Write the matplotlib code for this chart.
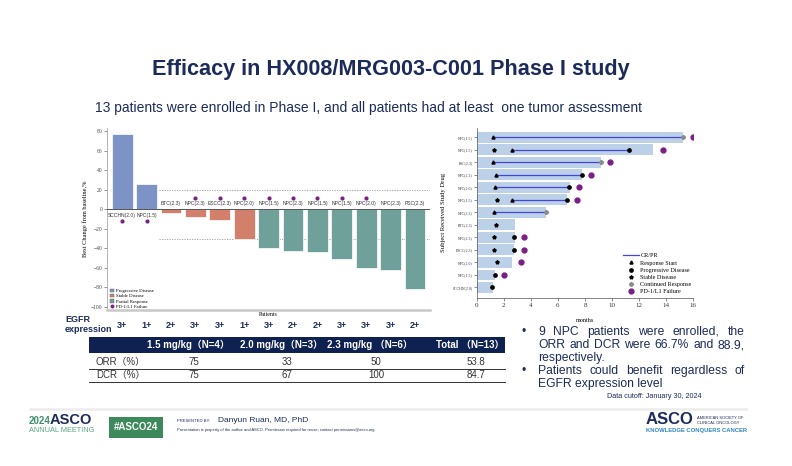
import numpy as np
import matplotlib
matplotlib.use("Agg")
import matplotlib.pyplot as plt
from matplotlib.patches import Patch, Rectangle
from matplotlib.lines import Line2D

W, H = 792, 466
SANS = ["Liberation Sans", "Noto Sans CJK SC", "DejaVu Sans"]
SERIF = ["Liberation Serif", "DejaVu Serif"]
NAVY = "#1c2b5a"

# waterfall data (left panel)
wf_labels = ["SCCHN(2.0)", "NPC(1.5)", "BTC(2.3)", "NPC(2.3)", "ESCC(2.3)", "NPC(2.0)",
             "NPC(1.5)", "NPC(2.3)", "NPC(1.5)", "NPC(1.5)", "NPC(2.0)", "NPC(2.3)", "PSC(2.3)"]
wf_change = [77, 26, -4, -8, -11, -30, -40, -43, -44, -51, -60, -62, -82]
wf_response = ["PD", "PD", "SD", "SD", "SD", "SD", "PR", "PR", "PR", "PR", "PR", "PR", "PR"]
wf_pd1_fail = [1, 1, 0, 1, 1, 1, 1, 1, 1, 1, 1, 0, 0]
egfr = ["3+", "1+", "2+", "3+", "3+", "1+", "3+", "2+", "2+", "3+", "3+", "3+", "2+"]

# swimmer data (right panel), top row first
sw_labels = ["NPC(1.5)", "NPC(1.5)", "PSC(2.3)", "NPC(2.3)", "NPC(2.0)", "NPC(1.5)", "NPC(2.3)",
             "BTC(2.3)", "NPC(2.3)", "ESCC(2.3)", "NPC(2.0)", "NPC(1.5)", "SCCHN(2.0)"]
nan = np.nan
sw_duration = [15.26, 13.05, 9.16, 7.8, 6.9, 6.7, 5.12, 2.83, 2.83, 2.76, 2.58, 1.35, 1.23]
sw_stable = [nan, 1.28, nan, nan, nan, 1.48, nan, 1.43, 1.3, 1.26, 1.53, nan, nan]
sw_resp_start = [1.18, 2.63, 1.18, 1.43, 1.35, 2.58, 1.3, nan, nan, nan, nan, nan, nan]
sw_resp_end = [15.26, 11.22, 9.16, 7.75, 6.84, 6.65, 5.12, nan, nan, nan, nan, nan, nan]
sw_progress = [nan, 11.22, nan, 7.75, 6.84, 6.65, nan, nan, 2.78, 2.73, nan, 1.35, 1.16]
sw_continued = [15.26, nan, 9.16, nan, nan, nan, 5.12, nan, nan, nan, nan, nan, nan]
sw_pd1_fail = [15.95, 13.78, 9.85, 8.44, 7.58, 7.38, nan, nan, 3.52, 3.47, 3.25, 2.02, nan]

# table
tbl_cols = ["1.5 mg/kg（N=4）", "2.0 mg/kg（N=3）", "2.3 mg/kg （N=6）", "Total （N=13）"]
tbl_rows = ["ORR（%）", "DCR（%）"]
tbl_vals = [["75", "33", "50", "53.8"], ["75", "67", "100", "84.7"]]

resp_colors = {"PD": "#7d93c6", "SD": "#d27f6c", "PR": "#6fa19a"}
purple = "#7b1f86"


def fx(x):
    return x / W


def fy(y):
    return 1 - y / H


def box(l, t, r, b):
    return [fx(l), fy(b), (r - l) / W, (b - t) / H]


fig = plt.figure(figsize=(W / 100, H / 100), dpi=100)
fig.patch.set_facecolor("white")
renderer = fig.canvas.get_renderer()


def justified(x0, x1, yy, txt, **kw):
    # spread the words of one line between x0 and x1 (pixels)
    words = txt.split()
    items = [fig.text(0, fy(yy), w, ha="left", va="center", **kw) for w in words]
    widths = [t.get_window_extent(renderer).width for t in items]
    gap = (x1 - x0 - sum(widths)) / (len(words) - 1)
    pos = x0
    for t, w in zip(items, widths):
        t.set_x(fx(pos))
        pos += w + gap


fig.text(fx(391), fy(70), "Efficacy in HX008/MRG003-C001 Phase I study", ha="center", va="center",
         fontsize=15.6, fontweight="bold", color=NAVY, family=SANS)
fig.text(fx(95), fy(108), "13 patients were enrolled in Phase I, and all patients had at least  one tumor assessment",
         ha="left", va="center", fontsize=10, color=NAVY, family=SANS)

# ---- waterfall ----
ax = fig.add_axes(box(107, 128, 430, 310))
x = np.arange(len(wf_change))
cols = [resp_colors[r] for r in wf_response]
ax.bar(x, wf_change, width=0.85, color=cols, edgecolor="white", linewidth=0.5, zorder=3)
ax.axhline(0, color="#555555", lw=0.7, zorder=4)
ax.hlines([20, -30], 1.5, 12.6, colors="#999999", linestyles=(0, (1.5, 1.5)), lw=0.6, zorder=2)
for i, (lab, v, f) in enumerate(zip(wf_labels, wf_change, wf_pd1_fail)):
    if v > 0:
        ax.text(i, -6, lab, ha="center", va="center", fontsize=3.6, family=SANS, color="#333333", zorder=5)
        if f:
            ax.plot(i, -12, "o", ms=2, color=purple, zorder=5)
    else:
        ax.text(i, 5.5, lab, ha="center", va="center", fontsize=3.6, family=SANS, color="#333333", zorder=5)
        if f:
            ax.plot(i, 11, "o", ms=2, color=purple, zorder=5)
ax.set_xlim(-0.62, 12.61)
ax.set_ylim(-103, 83)
ax.set_yticks(np.arange(-100, 81, 20))
ax.set_xticks([])
ax.tick_params(axis="y", labelsize=4, length=2, width=0.4, pad=1, colors="#444444")
for t in ax.get_yticklabels():
    t.set_family(SERIF)
for s in ["top", "right"]:
    ax.spines[s].set_visible(False)
ax.spines["left"].set_color("#aaaaaa")
ax.spines["left"].set_linewidth(0.6)
ax.spines["bottom"].set_color("#c8c8c8")
ax.spines["bottom"].set_linewidth(1.8)
ax.set_ylabel("Best Change from baseline,%", fontsize=4.6, family=SERIF, labelpad=2)
ax.set_xlabel("Patients", fontsize=4.2, family=SERIF, labelpad=1.5)
handles = [Patch(facecolor=resp_colors["PD"], edgecolor="#666666", lw=0.3, label="Progressive Disease"),
           Patch(facecolor=resp_colors["SD"], edgecolor="#666666", lw=0.3, label="Stable Disease"),
           Patch(facecolor=resp_colors["PR"], edgecolor="#666666", lw=0.3, label="Partial Response"),
           Line2D([], [], marker="o", ls="", ms=1.8, color=purple, label="PD-1/L1 Failure")]
ax.legend(handles=handles, loc="lower left", bbox_to_anchor=(0.0, -0.01), frameon=False,
          prop={"family": SERIF, "size": 3.4}, handlelength=0.8, handleheight=0.7,
          labelspacing=0.15, borderaxespad=0.3, handletextpad=0.5)

# EGFR row
fig.text(fx(65), fy(319), "EGFR", ha="left", va="center", fontsize=6.5, fontweight="bold", color=NAVY, family=SANS)
fig.text(fx(65), fy(329), "expression", ha="left", va="center", fontsize=6.5, fontweight="bold", color=NAVY, family=SANS)
for i, e in enumerate(egfr):
    xd = ax.transData.transform((i, 0))[0]
    xf = fig.transFigure.inverted().transform((xd, 0))[0]
    fig.text(xf, fy(325), e, ha="center", va="center", fontsize=6.5, fontweight="bold", color=NAVY, family=SANS)

# ---- swimmer ----
ax2 = fig.add_axes(box(476.7, 128, 693.3, 297.7))
y = np.arange(len(sw_labels))
ax2.barh(y, sw_duration, height=0.85, color="#bcd0e8", zorder=2)
ax2.hlines(y, sw_resp_start, sw_resp_end, colors="#4545d8", lw=0.9, zorder=3)
mk = dict(ls="", zorder=4)
ax2.plot(sw_resp_start, y, "^", ms=2.2, color="black", **mk)
ax2.plot(sw_progress, y, "o", ms=2.4, color="black", **mk)
ax2.plot(sw_stable, y, "*", ms=2.8, color="black", **mk)
ax2.plot(sw_continued, y, "P", ms=2.7, color="#8a8a8a", **mk)
ax2.plot(sw_pd1_fail, y, "o", ms=3.5, color=purple, **mk)
ax2.set_xlim(0, 16)
ax2.set_ylim(12.83, -0.74)
ax2.set_xticks(np.arange(0, 17, 2))
ax2.set_yticks(y)
ax2.set_yticklabels(sw_labels)
ax2.tick_params(axis="x", labelsize=5, length=2, width=0.4, pad=2, colors="#333333")
ax2.tick_params(axis="y", labelsize=2.8, length=2, width=0.4, pad=1, colors="#333333")
for t in ax2.get_xticklabels() + ax2.get_yticklabels():
    t.set_family(SERIF)
for s in ["top", "right"]:
    ax2.spines[s].set_visible(False)
for s in ["left", "bottom"]:
    ax2.spines[s].set_color("#555555")
    ax2.spines[s].set_linewidth(0.5)
ax2.set_ylabel("Subject Received Study Drug", fontsize=4.8, family=SERIF, labelpad=5)
ax2.set_xlabel("months", fontsize=4.4, family=SERIF, labelpad=7)
h2 = [Line2D([], [], color="#4545d8", lw=0.9, label="CR/PR"),
      Line2D([], [], marker="^", ls="", ms=2.2, color="black", label="Response Start"),
      Line2D([], [], marker="o", ls="", ms=2.4, color="black", label="Progressive Disease"),
      Line2D([], [], marker="*", ls="", ms=2.8, color="black", label="Stable Disease"),
      Line2D([], [], marker="P", ls="", ms=2.7, color="#8a8a8a", label="Continued Response"),
      Line2D([], [], marker="o", ls="", ms=3.5, color=purple, label="PD-1/L1 Failure")]
ax2.legend(handles=h2, loc="lower left", bbox_to_anchor=(0.66, 0.0), frameon=False,
           prop={"family": SERIF, "size": 4.4}, handlelength=2.6, labelspacing=0.3,
           borderaxespad=0.2, handletextpad=0.2)

# ---- table ----
tab_l, tab_r = 89, 505
fig.patches.append(Rectangle((fx(tab_l), fy(353)), (tab_r - tab_l) / W, 16 / H,
                             transform=fig.transFigure, facecolor="#0f2150", edgecolor="none"))
col_x = [188, 281, 370, 470]
for cx, c in zip(col_x, tbl_cols):
    fig.text(fx(cx), fy(345), c, ha="center", va="center", fontsize=7, fontweight="bold", color="white", family=SANS)
row_y = [362, 375]
line_y = [369, 382]
for ry, ly, lab, vals in zip(row_y, line_y, tbl_rows, tbl_vals):
    fig.text(fx(96), fy(ry), lab, ha="left", va="center", fontsize=7, color="#333333", family=SANS)
    for cx, v in zip(col_x, vals):
        fig.text(fx(cx + 6), fy(ry), v, ha="center", va="center", fontsize=7, color="#333333", family=SANS)
    fig.lines.append(Line2D([fx(tab_l), fx(tab_r)], [fy(ly), fy(ly)], transform=fig.transFigure,
                            color="#333333", lw=0.7))

# ---- bullets ----
btxt = dict(fontsize=8.7, color=NAVY, family=SANS)
fig.text(fx(521), fy(332), "•", ha="left", va="center", **btxt)
fig.text(fx(521), fy(371), "•", ha="left", va="center", **btxt)
justified(538, 745, 332, "9 NPC patients were enrolled, the", **btxt)
justified(538, 745, 345, "ORR and DCR were 66.7% and 88.9,", **btxt)
fig.text(fx(538), fy(358), "respectively.", ha="left", va="center", **btxt)
justified(538, 745, 371, "Patients could benefit regardless of", **btxt)
fig.text(fx(538), fy(384), "EGFR expression level", ha="left", va="center", **btxt)
fig.text(fx(702), fy(396), "Data cutoff: January 30, 2024", ha="right", va="center", fontsize=5.2,
         color=NAVY, family=SANS)

# ---- footer ----
fig.lines.append(Line2D([fx(30), fx(746)], [fy(408.6), fy(408.6)], transform=fig.transFigure,
                        color="#ececec", lw=1.8))
fig.text(fx(29), fy(421), "2024", ha="left", va="center", fontsize=7, fontweight="bold", color="#3a8f68", family=SANS)
fig.text(fx(50), fy(420), "ASCO", ha="left", va="center", fontsize=10.5, fontweight="bold", color=NAVY, family=SANS)
fig.text(fx(29), fy(430.5), "ANNUAL MEETING", ha="left", va="center", fontsize=5.3, color="#5aa882", family=SANS)
fig.patches.append(Rectangle((fx(109), fy(438)), 54 / W, 21 / H, transform=fig.transFigure,
                             facecolor="#3c8a5c", edgecolor="none"))
fig.text(fx(136), fy(427.5), "#ASCO24", ha="center", va="center", fontsize=7, fontweight="bold", color="white", family=SANS)
fig.text(fx(177), fy(420.5), "PRESENTED BY:", ha="left", va="center", fontsize=3, color=NAVY, family=SANS)
fig.text(fx(218), fy(420), "Danyun Ruan, MD, PhD", ha="left", va="center", fontsize=6, color=NAVY, family=SANS)
fig.text(fx(177), fy(429.5), "Presentation is property of the author and ASCO. Permission required for reuse; contact permissions@asco.org",
         ha="left", va="center", fontsize=2.9, color=NAVY, family=SANS)
fig.text(fx(646), fy(420), "ASCO", ha="left", va="center", fontsize=12, fontweight="bold", color=NAVY, family=SANS)
fig.text(fx(697), fy(418), "AMERICAN SOCIETY OF", ha="left", va="center", fontsize=2.9, color=NAVY, family=SANS)
fig.text(fx(697), fy(422.5), "CLINICAL ONCOLOGY", ha="left", va="center", fontsize=2.9, color=NAVY, family=SANS)
fig.text(fx(646), fy(430.5), "KNOWLEDGE CONQUERS CANCER", ha="left", va="center", fontsize=4.2, fontweight="bold",
         color="#2e86c1", family=SANS)

fig.savefig("out.png", dpi=100, facecolor="white")
